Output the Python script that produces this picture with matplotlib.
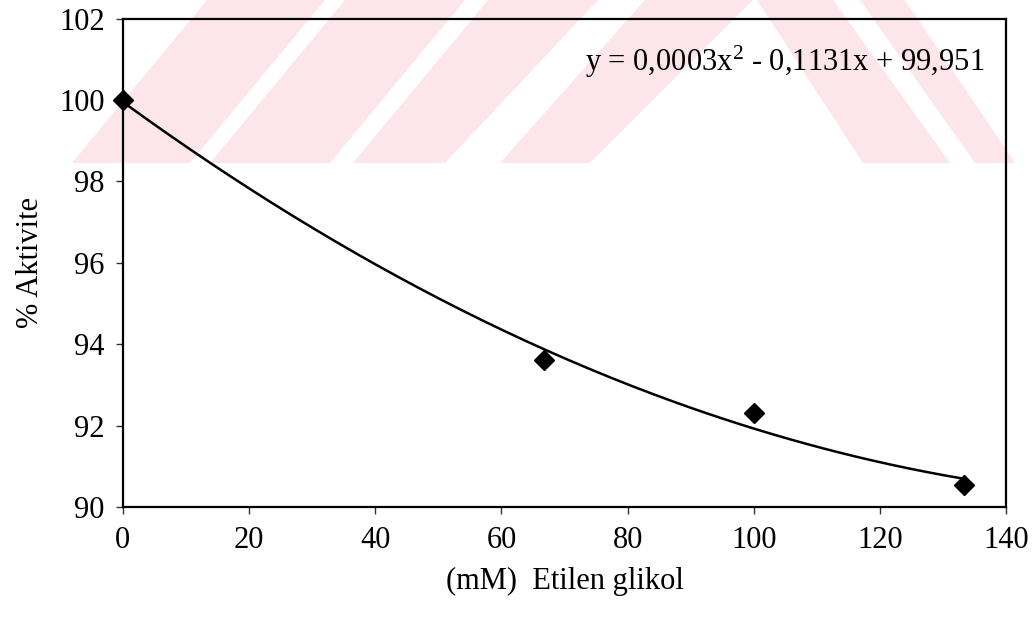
import matplotlib
matplotlib.use("Agg")
import matplotlib.pyplot as plt
from matplotlib.patches import Polygon
import numpy as np

konsantrasyon = [0, 66.67, 100, 133.33]      # mM etilen glikol
aktivite = [100.0, 93.6, 92.3, 90.55]        # % aktivite

x_ticks = [0, 20, 40, 60, 80, 100, 120, 140]
y_ticks = [90, 92, 94, 96, 98, 100, 102]
equation = r"y = 0,0003x$^{2}$ - 0,1131x + 99,951"

# pink watermark stripes of the scan, in image pixels:
# (bottom-left x, bottom-right x, top-left x, top-right x)
W, H = 1033, 625
band_bottom = 163
stripes = [
    (72, 190, 207, 325),
    (210, 330, 345, 465),
    (353, 445, 488, 598),
    (500, 590, 645, 753),
    (863, 950, 757, 833),
    (975, 1015, 860, 905),
]

plt.rcParams["font.family"] = ["Liberation Serif", "DejaVu Serif"]
plt.rcParams["mathtext.fontset"] = "custom"
plt.rcParams["mathtext.rm"] = "Liberation Serif"
plt.rcParams["mathtext.it"] = "Liberation Serif"

fig = plt.figure(figsize=(W / 100, H / 100), dpi=100)

for bl, br, tl, tr in stripes:
    pts = [(bl / W, 1 - band_bottom / H), (br / W, 1 - band_bottom / H),
           (tr / W, 1.0), (tl / W, 1.0)]
    fig.add_artist(Polygon(pts, closed=True, transform=fig.transFigure,
                           facecolor="#fce6eb", edgecolor="none", zorder=-1))

ax = fig.add_axes([0.119, 0.189, 0.855, 0.781])
ax.set_facecolor("none")

# second order trendline through the points
coef = np.polyfit(konsantrasyon, aktivite, 2)
xs = np.linspace(min(konsantrasyon), max(konsantrasyon), 200)
ax.plot(xs, np.polyval(coef, xs), color="black", lw=1.8, zorder=2)
ax.plot(konsantrasyon, aktivite, linestyle="none", marker="D", color="black",
        markersize=10, clip_on=False, zorder=3)

ax.set_xlim(0, 140)
ax.set_ylim(90, 102)
ax.set_xticks(x_ticks)
ax.set_yticks(y_ticks)
ax.tick_params(direction="out", length=5, width=1, labelsize=22, pad=8,
               color="#333333")
ax.tick_params(axis="x", pad=9)

for side in ax.spines.values():
    side.set_linewidth(1.6)
    side.set_color("black")

ax.set_xlabel("(mM)  Etilen glikol", fontsize=22, labelpad=8)
ax.set_ylabel("% Aktivite", fontsize=22, labelpad=10)

ax.text(0.976, 0.912, equation, transform=ax.transAxes, ha="right",
        va="center", fontsize=22)

fig.savefig("out.png", dpi=100)
